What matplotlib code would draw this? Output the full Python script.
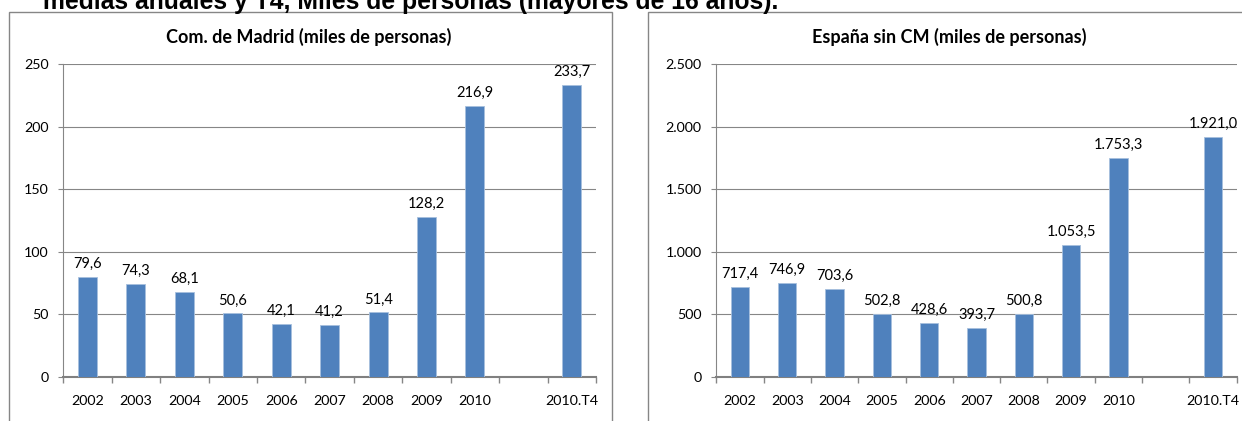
import numpy as np
import matplotlib.pyplot as plt
from matplotlib.patches import Rectangle
from matplotlib.ticker import FuncFormatter

# datos: parados, medias anuales y T4 (miles de personas)
categories = ['2002', '2003', '2004', '2005', '2006', '2007', '2008', '2009', '2010', '', '2010.T4']
madrid = [79.6, 74.3, 68.1, 50.6, 42.1, 41.2, 51.4, 128.2, 216.9, np.nan, 233.7]
espana_sin_cm = [717.4, 746.9, 703.6, 502.8, 428.6, 393.7, 500.8, 1053.5, 1753.3, np.nan, 1921.0]

header = 'medias anuales y T4, Miles de personas (mayores de 16 años).'
title_madrid = 'Com. de Madrid (miles de personas)'
title_espana = 'España sin CM (miles de personas)'

BLUE = '#4F81BD'
GRID = '#868686'
W, H = 1242, 421

plt.rcParams['font.family'] = ['Lato', 'DejaVu Sans']


def es_num(v, decimals):
    s = f'{v:,.{decimals}f}'
    return s.replace(',', 'X').replace('.', ',').replace('X', '.')


def draw_panel(ax, values, ymax, step):
    x = np.arange(len(categories))
    vals = np.array(values, dtype=float)
    ax.bar(x, vals, width=0.39, color=BLUE, edgecolor='#A7C0DE', linewidth=0.6, zorder=3)
    for xi, v in zip(x, vals):
        if np.isnan(v):
            continue
        ax.annotate(es_num(v, 1), (xi, v), xytext=(0, 6.5), textcoords='offset points',
                    ha='center', va='baseline', fontsize=10.5)
    ax.set_xlim(-0.5, len(categories) - 0.5)
    ax.set_ylim(0, ymax)
    ax.set_yticks(np.arange(0, ymax + 1, step))
    ax.yaxis.set_major_formatter(FuncFormatter(lambda v, p: es_num(v, 0)))
    ax.set_xticks(x)
    ax.set_xticklabels(categories)
    ax.set_xticks(np.arange(-0.5, len(categories)), minor=True)
    ax.tick_params(axis='x', which='major', length=0, pad=13.5, labelsize=10.3)
    ax.tick_params(axis='x', which='minor', length=4, width=1, color=GRID)
    ax.tick_params(axis='y', length=3.6, width=0.8, color=GRID, pad=7, labelsize=10.3)
    ax.grid(axis='y', color=GRID, linewidth=0.8)
    ax.set_axisbelow(True)
    for s in ['top', 'right']:
        ax.spines[s].set_visible(False)
    ax.spines['left'].set_color(GRID)
    ax.spines['left'].set_linewidth(0.8)
    ax.spines['bottom'].set_color('#808080')
    ax.spines['bottom'].set_linewidth(1.5)


fig = plt.figure(figsize=(W / 100, H / 100), dpi=100)

# marcos de los dos graficos
fig.add_artist(Rectangle((9 / W, -0.1), (612 - 9) / W, 1.1 - 12 / H,
                         transform=fig.transFigure, fill=False, edgecolor=GRID, linewidth=1))
fig.add_artist(Rectangle((648 / W, -0.1), (1260 - 648) / W, 1.1 - 12 / H,
                         transform=fig.transFigure, fill=False, edgecolor=GRID, linewidth=1))

ax1 = fig.add_axes([63.3 / W, 1 - 376.7 / H, (596 - 63.3) / W, (376.7 - 64.3) / H])
ax2 = fig.add_axes([716.3 / W, 1 - 376.7 / H, (1236.7 - 716.3) / W, (376.7 - 64.3) / H])

draw_panel(ax1, madrid, 250, 50)
draw_panel(ax2, espana_sin_cm, 2500, 500)

fig.text(309 / W, 1 - 37 / H, title_madrid, ha='center', va='center',
         fontsize=13, fontweight='bold')
fig.text(949 / W, 1 - 37 / H, title_espana, ha='center', va='center',
         fontsize=13, fontweight='bold')

# titulo general, cortado por el borde superior como en la imagen original
fig.text(43 / W, 1 - 8.5 / H, header, ha='left', va='baseline', fontsize=17.8,
         fontweight='bold', family=['Liberation Sans', 'DejaVu Sans'])

fig.savefig('out.png', dpi=100)
